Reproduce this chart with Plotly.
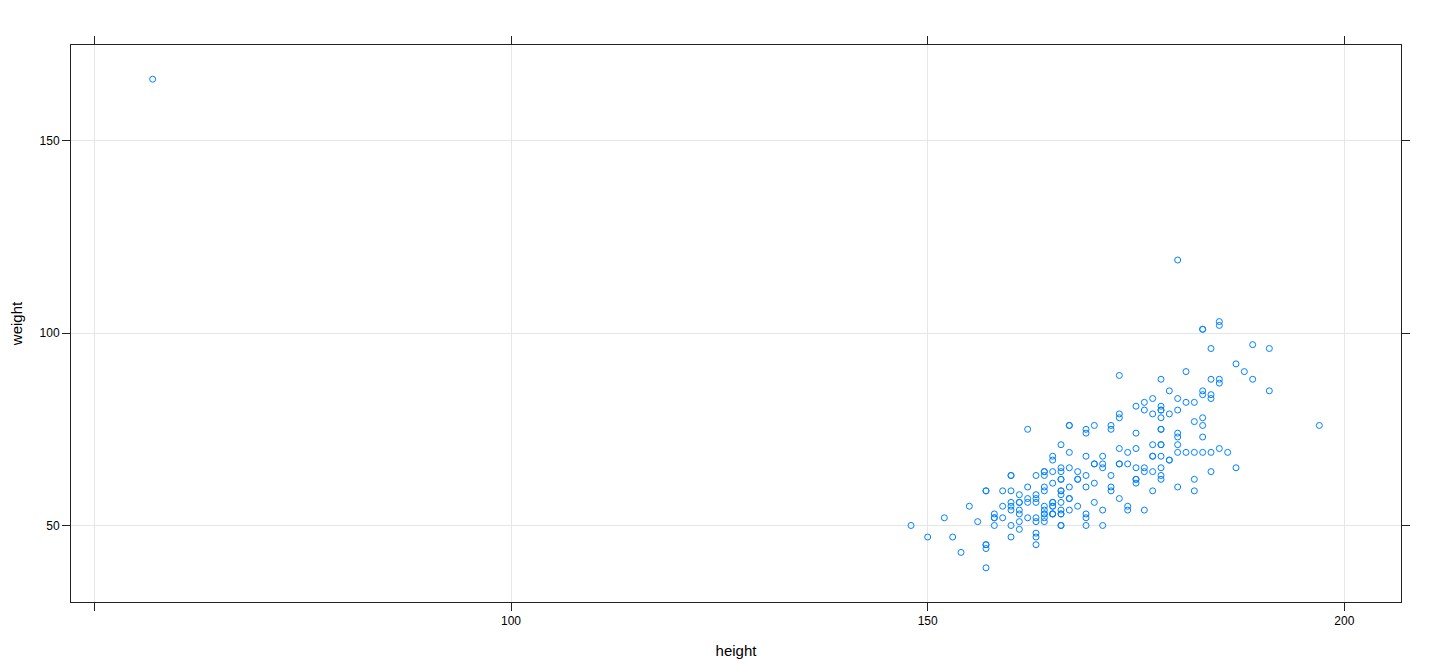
import plotly.graph_objects as go

height = [182, 161, 161, 177, 157, 170, 167, 186, 178, 171, 175, 57, 161, 168, 163, 166, 187, 168, 197, 175,
          180, 170, 175, 173, 171, 166, 169, 166, 157, 183, 166, 178, 173, 164, 169, 176, 166, 174, 178, 187,
          164, 178, 163, 183, 179, 160, 180, 161, 174, 162, 182, 165, 169, 185, 177, 176, 170, 183, 172, 173,
          165, 177, 180, 173, 189, 162, 165, 164, 158, 178, 175, 173, 165, 163, 166, 171, 160, 160, 182, 183,
          165, 168, 169, 167, 170, 182, 178, 165, 163, 162, 173, 161, 184, 180, 189, 165, 185, 169, 159, 155,
          164, 178, 163, 163, 175, 164, 152, 167, 166, 166, 183, 179, 174, 179, 167, 168, 184, 184, 169, 178,
          178, 167, 178, 165, 179, 169, 153, 157, 171, 157, 166, 185, 160, 148, 180, 156, 164, 166, 188, 183,
          170, 158, 157, 180, 165, 162, 164, 166, 175, 165, 181, 160, 175, 176, 164, 185, 166, 167, 160, 174,
          163, 158, 171, 180, 161, 166, 172, 183, 177, 164, 182, 184, 191, 178, 177, 164, 157, 167, 178, 162,
          172, 180, 159, 160, 177, 163, 185, 163, 178, 169, 181, 165, 159, 183, 166, 167, 191, 172, 172, 184,
          150, 154, 173, 181, 184, 176, 176, 177, 158, 160, 161, 164]
weight = [77, 58, 53, 68, 59, 76, 76, 69, 71, 65, 70, 166, 51, 64, 52, 65, 92, 62, 76, 61,
          119, 61, 65, 66, 54, 50, 63, 58, 39, 101, 71, 75, 79, 52, 68, 64, 56, 69, 88, 65,
          54, 80, 63, 78, 85, 54, 73, 49, 54, 75, 82, 56, 74, 102, 64, 65, 66, 73, 75, 57,
          68, 71, 71, 78, 97, 60, 64, 64, 52, 80, 62, 66, 55, 56, 50, 50, 50, 63, 69, 69,
          61, 55, 53, 60, 56, 59, 62, 53, 57, 57, 70, 56, 84, 69, 88, 56, 103, 50, 52, 55,
          55, 63, 47, 45, 62, 53, 52, 57, 64, 59, 84, 79, 55, 67, 76, 62, 83, 96, 75, 65,
          78, 69, 68, 55, 67, 52, 47, 45, 68, 44, 62, 87, 56, 50, 83, 51, 64, 62, 90, 85,
          66, 52, 59, 80, 67, 52, 60, 59, 81, 53, 69, 59, 74, 54, 63, 88, 53, 54, 47, 66,
          58, 53, 66, 74, 56, 53, 60, 76, 83, 53, 62, 69, 96, 81, 59, 51, 45, 57, 75, 56,
          63, 60, 55, 63, 68, 51, 70, 48, 71, 60, 82, 53, 59, 101, 54, 65, 85, 76, 59, 64,
          47, 43, 89, 90, 88, 82, 80, 79, 50, 55, 54, 59]

x_tick_vals = [50, 100, 150, 200]
x_tick_text = ["", "100", "150", "200"]
y_tick_vals = [50, 100, 150]
y_tick_text = ["50", "100", "150"]

fig = go.Figure(go.Scatter(
    x=height, y=weight, mode="markers",
    marker=dict(symbol="circle-open", size=6, color="#0080ff",
                line=dict(width=1, color="#0080ff")),
    hoverinfo="x+y", showlegend=False,
))

font = "Liberation Sans, Arial, Helvetica, sans-serif"
axis_common = dict(showline=True, linecolor="#222222", linewidth=1, mirror="ticks",
                   ticks="outside", ticklen=8, tickcolor="#222222", tickwidth=1,
                   showgrid=True, gridcolor="#e6e6e6", gridwidth=1, zeroline=False,
                   automargin=False,
                   tickfont=dict(family=font, size=12, color="#000000"))

xmin, xmax = min(height), max(height)
ymin, ymax = min(weight), max(weight)
xpad = 0.07 * (xmax - xmin)
ypad = 0.07 * (ymax - ymin)

fig.update_xaxes(range=[xmin - xpad, xmax + xpad], tickmode="array",
                 tickvals=x_tick_vals, ticktext=x_tick_text,
                 title=dict(text="height", font=dict(family=font, size=15, color="#000000"), standoff=18),
                 **axis_common)
fig.update_yaxes(range=[ymin - ypad, ymax + ypad], tickmode="array",
                 tickvals=y_tick_vals, ticktext=y_tick_text,
                 title=dict(text="weight", font=dict(family=font, size=15, color="#000000"), standoff=17),
                 **axis_common)

fig.update_layout(width=1440, height=672, margin=dict(l=63, r=47, t=37, b=78),
                  plot_bgcolor="white", paper_bgcolor="white",
                  font=dict(family=font))

fig.write_html("out.html")
